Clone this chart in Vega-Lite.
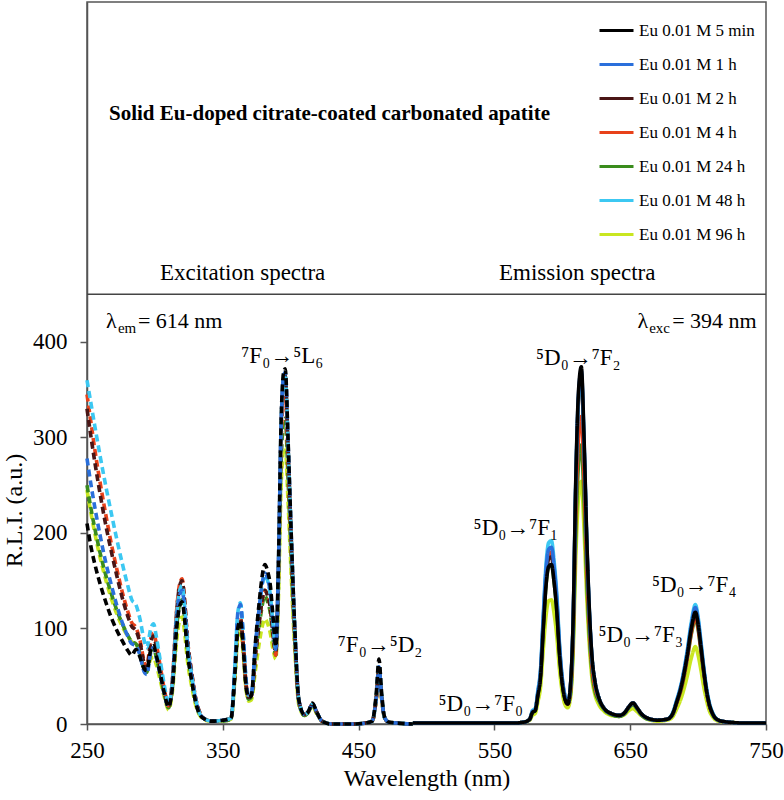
{
"$schema": "https://vega.github.io/schema/vega-lite/v6.json",
"width": 679, "height": 722,
"autosize": {"type": "none"},
"padding": {"left": 87, "top": 2, "right": 18, "bottom": 76},
"background": "white",
"config": {"font": "Liberation Serif", "view": {"stroke": "#555", "strokeWidth": 1.5}},
"datasets": {
"sp": [
{"s":"96 h","p":"x","x":250,"y":245},{"s":"96 h","p":"x","x":253,"y":220},{"s":"96 h","p":"x","x":256,"y":198},{"s":"96 h","p":"x","x":260,"y":172},{"s":"96 h","p":"x","x":264,"y":150},{"s":"96 h","p":"x","x":268,"y":131},{"s":"96 h","p":"x","x":272,"y":115},{"s":"96 h","p":"x","x":276,"y":102},{"s":"96 h","p":"x","x":280,"y":92},{"s":"96 h","p":"x","x":283,"y":86},
{"s":"96 h","p":"x","x":286,"y":84},{"s":"96 h","p":"x","x":289,"y":76},{"s":"96 h","p":"x","x":292,"y":62},{"s":"96 h","p":"x","x":294,"y":58},{"s":"96 h","p":"x","x":297,"y":68},{"s":"96 h","p":"x","x":299,"y":70},{"s":"96 h","p":"x","x":301,"y":62},{"s":"96 h","p":"x","x":304,"y":45},{"s":"96 h","p":"x","x":307,"y":28},{"s":"96 h","p":"x","x":310,"y":15},
{"s":"96 h","p":"x","x":313,"y":35},{"s":"96 h","p":"x","x":316,"y":87},{"s":"96 h","p":"x","x":318,"y":107},{"s":"96 h","p":"x","x":320,"y":112},{"s":"96 h","p":"x","x":322,"y":94},{"s":"96 h","p":"x","x":324,"y":66},{"s":"96 h","p":"x","x":327,"y":40},{"s":"96 h","p":"x","x":330,"y":20},{"s":"96 h","p":"x","x":333,"y":9},{"s":"96 h","p":"x","x":337,"y":4},
{"s":"96 h","p":"x","x":342,"y":3},{"s":"96 h","p":"x","x":350,"y":3},{"s":"96 h","p":"x","x":356,"y":5},{"s":"96 h","p":"x","x":359,"y":49},{"s":"96 h","p":"x","x":361,"y":90},{"s":"96 h","p":"x","x":363,"y":98},{"s":"96 h","p":"x","x":365,"y":74},{"s":"96 h","p":"x","x":367,"y":38},{"s":"96 h","p":"x","x":369,"y":24},{"s":"96 h","p":"x","x":371,"y":25},
{"s":"96 h","p":"x","x":374,"y":56},{"s":"96 h","p":"x","x":377,"y":86},{"s":"96 h","p":"x","x":379,"y":102},{"s":"96 h","p":"x","x":381,"y":110},{"s":"96 h","p":"x","x":383,"y":105},{"s":"96 h","p":"x","x":385,"y":95},{"s":"96 h","p":"x","x":387,"y":78},{"s":"96 h","p":"x","x":389,"y":68},{"s":"96 h","p":"x","x":391,"y":133},{"s":"96 h","p":"x","x":393,"y":250},
{"s":"96 h","p":"x","x":395,"y":288},{"s":"96 h","p":"x","x":396,"y":290},{"s":"96 h","p":"x","x":398,"y":234},{"s":"96 h","p":"x","x":400,"y":168},{"s":"96 h","p":"x","x":403,"y":78},{"s":"96 h","p":"x","x":406,"y":20},{"s":"96 h","p":"x","x":410,"y":9},{"s":"96 h","p":"x","x":413,"y":12},{"s":"96 h","p":"x","x":416,"y":19},{"s":"96 h","p":"x","x":419,"y":11},
{"s":"96 h","p":"x","x":423,"y":3},{"s":"96 h","p":"x","x":430,"y":0},{"s":"96 h","p":"x","x":445,"y":0},{"s":"96 h","p":"x","x":455,"y":1},{"s":"96 h","p":"x","x":460,"y":3},{"s":"96 h","p":"x","x":463,"y":26},{"s":"96 h","p":"x","x":465,"y":55},{"s":"96 h","p":"x","x":467,"y":26},{"s":"96 h","p":"x","x":469,"y":7},{"s":"96 h","p":"x","x":472,"y":2},
{"s":"96 h","p":"x","x":478,"y":1},{"s":"96 h","p":"x","x":490,"y":0},
{"s":"96 h","p":"m","x":490,"y":1},{"s":"96 h","p":"m","x":530,"y":1},{"s":"96 h","p":"m","x":565,"y":1},{"s":"96 h","p":"m","x":572,"y":2},{"s":"96 h","p":"m","x":576,"y":4},{"s":"96 h","p":"m","x":578,"y":9},{"s":"96 h","p":"m","x":580,"y":11},{"s":"96 h","p":"m","x":582,"y":23},{"s":"96 h","p":"m","x":584,"y":39},{"s":"96 h","p":"m","x":586,"y":78},
{"s":"96 h","p":"m","x":588,"y":113},{"s":"96 h","p":"m","x":590,"y":129},{"s":"96 h","p":"m","x":592,"y":130},{"s":"96 h","p":"m","x":594,"y":115},{"s":"96 h","p":"m","x":596,"y":91},{"s":"96 h","p":"m","x":598,"y":56},{"s":"96 h","p":"m","x":600,"y":33},{"s":"96 h","p":"m","x":602,"y":20},{"s":"96 h","p":"m","x":604,"y":17},{"s":"96 h","p":"m","x":606,"y":27},
{"s":"96 h","p":"m","x":608,"y":75},{"s":"96 h","p":"m","x":610,"y":177},{"s":"96 h","p":"m","x":612,"y":238},{"s":"96 h","p":"m","x":614,"y":254},{"s":"96 h","p":"m","x":616,"y":204},{"s":"96 h","p":"m","x":618,"y":133},{"s":"96 h","p":"m","x":620,"y":80},{"s":"96 h","p":"m","x":622,"y":46},{"s":"96 h","p":"m","x":624,"y":31},{"s":"96 h","p":"m","x":627,"y":20},
{"s":"96 h","p":"m","x":631,"y":13},{"s":"96 h","p":"m","x":636,"y":9},{"s":"96 h","p":"m","x":642,"y":8},{"s":"96 h","p":"m","x":646,"y":10},{"s":"96 h","p":"m","x":649,"y":14},{"s":"96 h","p":"m","x":652,"y":16},{"s":"96 h","p":"m","x":655,"y":13},{"s":"96 h","p":"m","x":658,"y":9},{"s":"96 h","p":"m","x":663,"y":5},{"s":"96 h","p":"m","x":670,"y":3},
{"s":"96 h","p":"m","x":677,"y":4},{"s":"96 h","p":"m","x":681,"y":7},{"s":"96 h","p":"m","x":684,"y":15},{"s":"96 h","p":"m","x":688,"y":29},{"s":"96 h","p":"m","x":692,"y":50},{"s":"96 h","p":"m","x":695,"y":69},{"s":"96 h","p":"m","x":698,"y":81},{"s":"96 h","p":"m","x":700,"y":72},{"s":"96 h","p":"m","x":702,"y":57},{"s":"96 h","p":"m","x":704,"y":40},
{"s":"96 h","p":"m","x":706,"y":26},{"s":"96 h","p":"m","x":708,"y":15},{"s":"96 h","p":"m","x":711,"y":7},{"s":"96 h","p":"m","x":715,"y":3},{"s":"96 h","p":"m","x":722,"y":2},{"s":"96 h","p":"m","x":735,"y":1},{"s":"96 h","p":"m","x":750,"y":1},

{"s":"24 h","p":"x","x":250,"y":250},{"s":"24 h","p":"x","x":253,"y":225},{"s":"24 h","p":"x","x":256,"y":203},{"s":"24 h","p":"x","x":260,"y":177},{"s":"24 h","p":"x","x":264,"y":155},{"s":"24 h","p":"x","x":268,"y":136},{"s":"24 h","p":"x","x":272,"y":119},{"s":"24 h","p":"x","x":276,"y":105},{"s":"24 h","p":"x","x":280,"y":93},{"s":"24 h","p":"x","x":283,"y":86},
{"s":"24 h","p":"x","x":286,"y":84},{"s":"24 h","p":"x","x":289,"y":74},{"s":"24 h","p":"x","x":292,"y":58},{"s":"24 h","p":"x","x":294,"y":54},{"s":"24 h","p":"x","x":297,"y":76},{"s":"24 h","p":"x","x":299,"y":80},{"s":"24 h","p":"x","x":301,"y":70},{"s":"24 h","p":"x","x":304,"y":51},{"s":"24 h","p":"x","x":307,"y":31},{"s":"24 h","p":"x","x":310,"y":17},
{"s":"24 h","p":"x","x":313,"y":40},{"s":"24 h","p":"x","x":316,"y":101},{"s":"24 h","p":"x","x":318,"y":124},{"s":"24 h","p":"x","x":320,"y":130},{"s":"24 h","p":"x","x":322,"y":110},{"s":"24 h","p":"x","x":324,"y":76},{"s":"24 h","p":"x","x":327,"y":47},{"s":"24 h","p":"x","x":330,"y":23},{"s":"24 h","p":"x","x":333,"y":10},{"s":"24 h","p":"x","x":337,"y":5},
{"s":"24 h","p":"x","x":342,"y":3},{"s":"24 h","p":"x","x":350,"y":3},{"s":"24 h","p":"x","x":356,"y":5},{"s":"24 h","p":"x","x":359,"y":52},{"s":"24 h","p":"x","x":361,"y":96},{"s":"24 h","p":"x","x":363,"y":104},{"s":"24 h","p":"x","x":365,"y":79},{"s":"24 h","p":"x","x":367,"y":40},{"s":"24 h","p":"x","x":369,"y":26},{"s":"24 h","p":"x","x":371,"y":28},
{"s":"24 h","p":"x","x":374,"y":69},{"s":"24 h","p":"x","x":377,"y":104},{"s":"24 h","p":"x","x":379,"y":124},{"s":"24 h","p":"x","x":381,"y":134},{"s":"24 h","p":"x","x":383,"y":128},{"s":"24 h","p":"x","x":385,"y":116},{"s":"24 h","p":"x","x":387,"y":90},{"s":"24 h","p":"x","x":389,"y":72},{"s":"24 h","p":"x","x":391,"y":146},{"s":"24 h","p":"x","x":393,"y":275},
{"s":"24 h","p":"x","x":395,"y":318},{"s":"24 h","p":"x","x":396,"y":320},{"s":"24 h","p":"x","x":398,"y":258},{"s":"24 h","p":"x","x":400,"y":185},{"s":"24 h","p":"x","x":403,"y":86},{"s":"24 h","p":"x","x":406,"y":22},{"s":"24 h","p":"x","x":410,"y":9},{"s":"24 h","p":"x","x":413,"y":12},{"s":"24 h","p":"x","x":416,"y":20},{"s":"24 h","p":"x","x":419,"y":12},
{"s":"24 h","p":"x","x":423,"y":3},{"s":"24 h","p":"x","x":430,"y":0},{"s":"24 h","p":"x","x":445,"y":0},{"s":"24 h","p":"x","x":455,"y":1},{"s":"24 h","p":"x","x":460,"y":3},{"s":"24 h","p":"x","x":463,"y":27},{"s":"24 h","p":"x","x":465,"y":58},{"s":"24 h","p":"x","x":467,"y":27},{"s":"24 h","p":"x","x":469,"y":7},{"s":"24 h","p":"x","x":472,"y":2},
{"s":"24 h","p":"x","x":478,"y":1},{"s":"24 h","p":"x","x":490,"y":0},
{"s":"24 h","p":"m","x":490,"y":1},{"s":"24 h","p":"m","x":530,"y":1},{"s":"24 h","p":"m","x":565,"y":1},{"s":"24 h","p":"m","x":572,"y":2},{"s":"24 h","p":"m","x":576,"y":5},{"s":"24 h","p":"m","x":578,"y":12},{"s":"24 h","p":"m","x":580,"y":14},{"s":"24 h","p":"m","x":582,"y":30},{"s":"24 h","p":"m","x":584,"y":50},{"s":"24 h","p":"m","x":586,"y":100},
{"s":"24 h","p":"m","x":588,"y":145},{"s":"24 h","p":"m","x":590,"y":165},{"s":"24 h","p":"m","x":592,"y":167},{"s":"24 h","p":"m","x":594,"y":148},{"s":"24 h","p":"m","x":596,"y":117},{"s":"24 h","p":"m","x":598,"y":72},{"s":"24 h","p":"m","x":600,"y":42},{"s":"24 h","p":"m","x":602,"y":26},{"s":"24 h","p":"m","x":604,"y":21},{"s":"24 h","p":"m","x":606,"y":31},
{"s":"24 h","p":"m","x":608,"y":86},{"s":"24 h","p":"m","x":610,"y":203},{"s":"24 h","p":"m","x":612,"y":273},{"s":"24 h","p":"m","x":614,"y":292},{"s":"24 h","p":"m","x":616,"y":234},{"s":"24 h","p":"m","x":618,"y":152},{"s":"24 h","p":"m","x":620,"y":91},{"s":"24 h","p":"m","x":622,"y":53},{"s":"24 h","p":"m","x":624,"y":35},{"s":"24 h","p":"m","x":627,"y":24},
{"s":"24 h","p":"m","x":631,"y":15},{"s":"24 h","p":"m","x":636,"y":10},{"s":"24 h","p":"m","x":642,"y":8},{"s":"24 h","p":"m","x":646,"y":11},{"s":"24 h","p":"m","x":649,"y":17},{"s":"24 h","p":"m","x":652,"y":20},{"s":"24 h","p":"m","x":655,"y":16},{"s":"24 h","p":"m","x":658,"y":10},{"s":"24 h","p":"m","x":663,"y":5},{"s":"24 h","p":"m","x":670,"y":4},
{"s":"24 h","p":"m","x":677,"y":5},{"s":"24 h","p":"m","x":681,"y":9},{"s":"24 h","p":"m","x":684,"y":21},{"s":"24 h","p":"m","x":688,"y":39},{"s":"24 h","p":"m","x":692,"y":68},{"s":"24 h","p":"m","x":695,"y":94},{"s":"24 h","p":"m","x":698,"y":110},{"s":"24 h","p":"m","x":700,"y":99},{"s":"24 h","p":"m","x":702,"y":77},{"s":"24 h","p":"m","x":704,"y":55},
{"s":"24 h","p":"m","x":706,"y":35},{"s":"24 h","p":"m","x":708,"y":21},{"s":"24 h","p":"m","x":711,"y":9},{"s":"24 h","p":"m","x":715,"y":4},{"s":"24 h","p":"m","x":722,"y":2},{"s":"24 h","p":"m","x":735,"y":1},{"s":"24 h","p":"m","x":750,"y":1},

{"s":"4 h","p":"x","x":250,"y":345},{"s":"4 h","p":"x","x":253,"y":315},{"s":"4 h","p":"x","x":256,"y":285},{"s":"4 h","p":"x","x":260,"y":250},{"s":"4 h","p":"x","x":264,"y":218},{"s":"4 h","p":"x","x":268,"y":188},{"s":"4 h","p":"x","x":272,"y":162},{"s":"4 h","p":"x","x":276,"y":138},{"s":"4 h","p":"x","x":280,"y":118},{"s":"4 h","p":"x","x":283,"y":106},
{"s":"4 h","p":"x","x":286,"y":101},{"s":"4 h","p":"x","x":289,"y":88},{"s":"4 h","p":"x","x":292,"y":66},{"s":"4 h","p":"x","x":294,"y":60},{"s":"4 h","p":"x","x":297,"y":90},{"s":"4 h","p":"x","x":299,"y":96},{"s":"4 h","p":"x","x":301,"y":84},{"s":"4 h","p":"x","x":304,"y":60},{"s":"4 h","p":"x","x":307,"y":36},{"s":"4 h","p":"x","x":310,"y":19},
{"s":"4 h","p":"x","x":313,"y":48},{"s":"4 h","p":"x","x":316,"y":119},{"s":"4 h","p":"x","x":318,"y":145},{"s":"4 h","p":"x","x":320,"y":152},{"s":"4 h","p":"x","x":322,"y":128},{"s":"4 h","p":"x","x":324,"y":89},{"s":"4 h","p":"x","x":327,"y":55},{"s":"4 h","p":"x","x":330,"y":27},{"s":"4 h","p":"x","x":333,"y":12},{"s":"4 h","p":"x","x":337,"y":5},
{"s":"4 h","p":"x","x":342,"y":3},{"s":"4 h","p":"x","x":350,"y":4},{"s":"4 h","p":"x","x":356,"y":6},{"s":"4 h","p":"x","x":359,"y":57},{"s":"4 h","p":"x","x":361,"y":104},{"s":"4 h","p":"x","x":363,"y":112},{"s":"4 h","p":"x","x":365,"y":85},{"s":"4 h","p":"x","x":367,"y":44},{"s":"4 h","p":"x","x":369,"y":29},{"s":"4 h","p":"x","x":371,"y":30},
{"s":"4 h","p":"x","x":374,"y":72},{"s":"4 h","p":"x","x":377,"y":109},{"s":"4 h","p":"x","x":379,"y":130},{"s":"4 h","p":"x","x":381,"y":140},{"s":"4 h","p":"x","x":383,"y":134},{"s":"4 h","p":"x","x":385,"y":122},{"s":"4 h","p":"x","x":387,"y":94},{"s":"4 h","p":"x","x":389,"y":72},{"s":"4 h","p":"x","x":391,"y":158},{"s":"4 h","p":"x","x":393,"y":297},
{"s":"4 h","p":"x","x":395,"y":343},{"s":"4 h","p":"x","x":396,"y":345},{"s":"4 h","p":"x","x":398,"y":278},{"s":"4 h","p":"x","x":400,"y":200},{"s":"4 h","p":"x","x":403,"y":93},{"s":"4 h","p":"x","x":406,"y":24},{"s":"4 h","p":"x","x":410,"y":10},{"s":"4 h","p":"x","x":413,"y":13},{"s":"4 h","p":"x","x":416,"y":21},{"s":"4 h","p":"x","x":419,"y":13},
{"s":"4 h","p":"x","x":423,"y":3},{"s":"4 h","p":"x","x":430,"y":0},{"s":"4 h","p":"x","x":445,"y":0},{"s":"4 h","p":"x","x":455,"y":1},{"s":"4 h","p":"x","x":460,"y":3},{"s":"4 h","p":"x","x":463,"y":26},{"s":"4 h","p":"x","x":465,"y":55},{"s":"4 h","p":"x","x":467,"y":26},{"s":"4 h","p":"x","x":469,"y":7},{"s":"4 h","p":"x","x":472,"y":2},
{"s":"4 h","p":"x","x":478,"y":1},{"s":"4 h","p":"x","x":490,"y":0},
{"s":"4 h","p":"m","x":490,"y":1},{"s":"4 h","p":"m","x":530,"y":1},{"s":"4 h","p":"m","x":565,"y":1},{"s":"4 h","p":"m","x":572,"y":2},{"s":"4 h","p":"m","x":576,"y":5},{"s":"4 h","p":"m","x":578,"y":13},{"s":"4 h","p":"m","x":580,"y":15},{"s":"4 h","p":"m","x":582,"y":32},{"s":"4 h","p":"m","x":584,"y":54},{"s":"4 h","p":"m","x":586,"y":108},
{"s":"4 h","p":"m","x":588,"y":157},{"s":"4 h","p":"m","x":590,"y":178},{"s":"4 h","p":"m","x":592,"y":180},{"s":"4 h","p":"m","x":594,"y":160},{"s":"4 h","p":"m","x":596,"y":126},{"s":"4 h","p":"m","x":598,"y":78},{"s":"4 h","p":"m","x":600,"y":45},{"s":"4 h","p":"m","x":602,"y":28},{"s":"4 h","p":"m","x":604,"y":21},{"s":"4 h","p":"m","x":606,"y":34},
{"s":"4 h","p":"m","x":608,"y":95},{"s":"4 h","p":"m","x":610,"y":224},{"s":"4 h","p":"m","x":612,"y":301},{"s":"4 h","p":"m","x":614,"y":322},{"s":"4 h","p":"m","x":616,"y":258},{"s":"4 h","p":"m","x":618,"y":168},{"s":"4 h","p":"m","x":620,"y":101},{"s":"4 h","p":"m","x":622,"y":58},{"s":"4 h","p":"m","x":624,"y":39},{"s":"4 h","p":"m","x":627,"y":26},
{"s":"4 h","p":"m","x":631,"y":16},{"s":"4 h","p":"m","x":636,"y":11},{"s":"4 h","p":"m","x":642,"y":9},{"s":"4 h","p":"m","x":646,"y":12},{"s":"4 h","p":"m","x":649,"y":18},{"s":"4 h","p":"m","x":652,"y":22},{"s":"4 h","p":"m","x":655,"y":17},{"s":"4 h","p":"m","x":658,"y":11},{"s":"4 h","p":"m","x":663,"y":6},{"s":"4 h","p":"m","x":670,"y":4},
{"s":"4 h","p":"m","x":677,"y":5},{"s":"4 h","p":"m","x":681,"y":10},{"s":"4 h","p":"m","x":684,"y":21},{"s":"4 h","p":"m","x":688,"y":40},{"s":"4 h","p":"m","x":692,"y":69},{"s":"4 h","p":"m","x":695,"y":96},{"s":"4 h","p":"m","x":698,"y":112},{"s":"4 h","p":"m","x":700,"y":101},{"s":"4 h","p":"m","x":702,"y":79},{"s":"4 h","p":"m","x":704,"y":56},
{"s":"4 h","p":"m","x":706,"y":36},{"s":"4 h","p":"m","x":708,"y":21},{"s":"4 h","p":"m","x":711,"y":10},{"s":"4 h","p":"m","x":715,"y":4},{"s":"4 h","p":"m","x":722,"y":2},{"s":"4 h","p":"m","x":735,"y":1},{"s":"4 h","p":"m","x":750,"y":1},

{"s":"2 h","p":"x","x":250,"y":330},{"s":"2 h","p":"x","x":253,"y":300},{"s":"2 h","p":"x","x":256,"y":272},{"s":"2 h","p":"x","x":260,"y":238},{"s":"2 h","p":"x","x":264,"y":207},{"s":"2 h","p":"x","x":268,"y":180},{"s":"2 h","p":"x","x":272,"y":155},{"s":"2 h","p":"x","x":276,"y":132},{"s":"2 h","p":"x","x":280,"y":113},{"s":"2 h","p":"x","x":283,"y":102},
{"s":"2 h","p":"x","x":286,"y":98},{"s":"2 h","p":"x","x":289,"y":85},{"s":"2 h","p":"x","x":292,"y":64},{"s":"2 h","p":"x","x":294,"y":58},{"s":"2 h","p":"x","x":297,"y":86},{"s":"2 h","p":"x","x":299,"y":92},{"s":"2 h","p":"x","x":301,"y":81},{"s":"2 h","p":"x","x":304,"y":58},{"s":"2 h","p":"x","x":307,"y":35},{"s":"2 h","p":"x","x":310,"y":19},
{"s":"2 h","p":"x","x":313,"y":47},{"s":"2 h","p":"x","x":316,"y":117},{"s":"2 h","p":"x","x":318,"y":143},{"s":"2 h","p":"x","x":320,"y":150},{"s":"2 h","p":"x","x":322,"y":126},{"s":"2 h","p":"x","x":324,"y":88},{"s":"2 h","p":"x","x":327,"y":54},{"s":"2 h","p":"x","x":330,"y":27},{"s":"2 h","p":"x","x":333,"y":12},{"s":"2 h","p":"x","x":337,"y":5},
{"s":"2 h","p":"x","x":342,"y":3},{"s":"2 h","p":"x","x":350,"y":4},{"s":"2 h","p":"x","x":356,"y":6},{"s":"2 h","p":"x","x":359,"y":56},{"s":"2 h","p":"x","x":361,"y":102},{"s":"2 h","p":"x","x":363,"y":110},{"s":"2 h","p":"x","x":365,"y":83},{"s":"2 h","p":"x","x":367,"y":43},{"s":"2 h","p":"x","x":369,"y":28},{"s":"2 h","p":"x","x":371,"y":29},
{"s":"2 h","p":"x","x":374,"y":72},{"s":"2 h","p":"x","x":377,"y":109},{"s":"2 h","p":"x","x":379,"y":130},{"s":"2 h","p":"x","x":381,"y":140},{"s":"2 h","p":"x","x":383,"y":134},{"s":"2 h","p":"x","x":385,"y":122},{"s":"2 h","p":"x","x":387,"y":94},{"s":"2 h","p":"x","x":389,"y":75},{"s":"2 h","p":"x","x":391,"y":166},{"s":"2 h","p":"x","x":393,"y":314},
{"s":"2 h","p":"x","x":395,"y":363},{"s":"2 h","p":"x","x":396,"y":365},{"s":"2 h","p":"x","x":398,"y":294},{"s":"2 h","p":"x","x":400,"y":211},{"s":"2 h","p":"x","x":403,"y":98},{"s":"2 h","p":"x","x":406,"y":25},{"s":"2 h","p":"x","x":410,"y":10},{"s":"2 h","p":"x","x":413,"y":13},{"s":"2 h","p":"x","x":416,"y":21},{"s":"2 h","p":"x","x":419,"y":13},
{"s":"2 h","p":"x","x":423,"y":3},{"s":"2 h","p":"x","x":430,"y":0},{"s":"2 h","p":"x","x":445,"y":0},{"s":"2 h","p":"x","x":455,"y":1},{"s":"2 h","p":"x","x":460,"y":3},{"s":"2 h","p":"x","x":463,"y":27},{"s":"2 h","p":"x","x":465,"y":58},{"s":"2 h","p":"x","x":467,"y":27},{"s":"2 h","p":"x","x":469,"y":7},{"s":"2 h","p":"x","x":472,"y":2},
{"s":"2 h","p":"x","x":478,"y":1},{"s":"2 h","p":"x","x":490,"y":0},
{"s":"2 h","p":"m","x":490,"y":1},{"s":"2 h","p":"m","x":530,"y":1},{"s":"2 h","p":"m","x":565,"y":1},{"s":"2 h","p":"m","x":572,"y":2},{"s":"2 h","p":"m","x":576,"y":5},{"s":"2 h","p":"m","x":578,"y":13},{"s":"2 h","p":"m","x":580,"y":15},{"s":"2 h","p":"m","x":582,"y":32},{"s":"2 h","p":"m","x":584,"y":53},{"s":"2 h","p":"m","x":586,"y":105},
{"s":"2 h","p":"m","x":588,"y":152},{"s":"2 h","p":"m","x":590,"y":173},{"s":"2 h","p":"m","x":592,"y":175},{"s":"2 h","p":"m","x":594,"y":155},{"s":"2 h","p":"m","x":596,"y":123},{"s":"2 h","p":"m","x":598,"y":76},{"s":"2 h","p":"m","x":600,"y":44},{"s":"2 h","p":"m","x":602,"y":27},{"s":"2 h","p":"m","x":604,"y":21},{"s":"2 h","p":"m","x":606,"y":39},
{"s":"2 h","p":"m","x":608,"y":107},{"s":"2 h","p":"m","x":610,"y":252},{"s":"2 h","p":"m","x":612,"y":340},{"s":"2 h","p":"m","x":614,"y":363},{"s":"2 h","p":"m","x":616,"y":291},{"s":"2 h","p":"m","x":618,"y":189},{"s":"2 h","p":"m","x":620,"y":113},{"s":"2 h","p":"m","x":622,"y":66},{"s":"2 h","p":"m","x":624,"y":44},{"s":"2 h","p":"m","x":627,"y":27},
{"s":"2 h","p":"m","x":631,"y":16},{"s":"2 h","p":"m","x":636,"y":11},{"s":"2 h","p":"m","x":642,"y":9},{"s":"2 h","p":"m","x":646,"y":12},{"s":"2 h","p":"m","x":649,"y":18},{"s":"2 h","p":"m","x":652,"y":22},{"s":"2 h","p":"m","x":655,"y":17},{"s":"2 h","p":"m","x":658,"y":11},{"s":"2 h","p":"m","x":663,"y":6},{"s":"2 h","p":"m","x":670,"y":4},
{"s":"2 h","p":"m","x":677,"y":5},{"s":"2 h","p":"m","x":681,"y":10},{"s":"2 h","p":"m","x":684,"y":22},{"s":"2 h","p":"m","x":688,"y":42},{"s":"2 h","p":"m","x":692,"y":72},{"s":"2 h","p":"m","x":695,"y":100},{"s":"2 h","p":"m","x":698,"y":117},{"s":"2 h","p":"m","x":700,"y":105},{"s":"2 h","p":"m","x":702,"y":82},{"s":"2 h","p":"m","x":704,"y":58},
{"s":"2 h","p":"m","x":706,"y":37},{"s":"2 h","p":"m","x":708,"y":22},{"s":"2 h","p":"m","x":711,"y":10},{"s":"2 h","p":"m","x":715,"y":4},{"s":"2 h","p":"m","x":722,"y":2},{"s":"2 h","p":"m","x":735,"y":1},{"s":"2 h","p":"m","x":750,"y":1},

{"s":"48 h","p":"x","x":250,"y":360},{"s":"48 h","p":"x","x":253,"y":335},{"s":"48 h","p":"x","x":256,"y":310},{"s":"48 h","p":"x","x":260,"y":278},{"s":"48 h","p":"x","x":264,"y":248},{"s":"48 h","p":"x","x":268,"y":220},{"s":"48 h","p":"x","x":272,"y":193},{"s":"48 h","p":"x","x":276,"y":168},{"s":"48 h","p":"x","x":280,"y":145},{"s":"48 h","p":"x","x":283,"y":130},
{"s":"48 h","p":"x","x":286,"y":125},{"s":"48 h","p":"x","x":289,"y":110},{"s":"48 h","p":"x","x":292,"y":88},{"s":"48 h","p":"x","x":294,"y":80},{"s":"48 h","p":"x","x":297,"y":100},{"s":"48 h","p":"x","x":299,"y":105},{"s":"48 h","p":"x","x":301,"y":92},{"s":"48 h","p":"x","x":304,"y":66},{"s":"48 h","p":"x","x":307,"y":40},{"s":"48 h","p":"x","x":310,"y":21},
{"s":"48 h","p":"x","x":313,"y":46},{"s":"48 h","p":"x","x":316,"y":113},{"s":"48 h","p":"x","x":318,"y":138},{"s":"48 h","p":"x","x":320,"y":145},{"s":"48 h","p":"x","x":322,"y":122},{"s":"48 h","p":"x","x":324,"y":85},{"s":"48 h","p":"x","x":327,"y":52},{"s":"48 h","p":"x","x":330,"y":26},{"s":"48 h","p":"x","x":333,"y":11},{"s":"48 h","p":"x","x":337,"y":5},
{"s":"48 h","p":"x","x":342,"y":3},{"s":"48 h","p":"x","x":350,"y":4},{"s":"48 h","p":"x","x":356,"y":6},{"s":"48 h","p":"x","x":359,"y":63},{"s":"48 h","p":"x","x":361,"y":116},{"s":"48 h","p":"x","x":363,"y":127},{"s":"48 h","p":"x","x":365,"y":95},{"s":"48 h","p":"x","x":367,"y":48},{"s":"48 h","p":"x","x":369,"y":30},{"s":"48 h","p":"x","x":371,"y":31},
{"s":"48 h","p":"x","x":374,"y":81},{"s":"48 h","p":"x","x":377,"y":122},{"s":"48 h","p":"x","x":379,"y":145},{"s":"48 h","p":"x","x":381,"y":156},{"s":"48 h","p":"x","x":383,"y":150},{"s":"48 h","p":"x","x":385,"y":135},{"s":"48 h","p":"x","x":387,"y":104},{"s":"48 h","p":"x","x":389,"y":78},{"s":"48 h","p":"x","x":391,"y":167},{"s":"48 h","p":"x","x":393,"y":315},
{"s":"48 h","p":"x","x":395,"y":364},{"s":"48 h","p":"x","x":396,"y":366},{"s":"48 h","p":"x","x":398,"y":296},{"s":"48 h","p":"x","x":400,"y":212},{"s":"48 h","p":"x","x":403,"y":99},{"s":"48 h","p":"x","x":406,"y":25},{"s":"48 h","p":"x","x":410,"y":10},{"s":"48 h","p":"x","x":413,"y":13},{"s":"48 h","p":"x","x":416,"y":21},{"s":"48 h","p":"x","x":419,"y":13},
{"s":"48 h","p":"x","x":423,"y":3},{"s":"48 h","p":"x","x":430,"y":0},{"s":"48 h","p":"x","x":445,"y":0},{"s":"48 h","p":"x","x":455,"y":1},{"s":"48 h","p":"x","x":460,"y":3},{"s":"48 h","p":"x","x":463,"y":29},{"s":"48 h","p":"x","x":465,"y":62},{"s":"48 h","p":"x","x":467,"y":29},{"s":"48 h","p":"x","x":469,"y":7},{"s":"48 h","p":"x","x":472,"y":2},
{"s":"48 h","p":"x","x":478,"y":1},{"s":"48 h","p":"x","x":490,"y":0},
{"s":"48 h","p":"m","x":490,"y":1},{"s":"48 h","p":"m","x":530,"y":1},{"s":"48 h","p":"m","x":565,"y":1},{"s":"48 h","p":"m","x":572,"y":2},{"s":"48 h","p":"m","x":576,"y":5},{"s":"48 h","p":"m","x":578,"y":14},{"s":"48 h","p":"m","x":580,"y":16},{"s":"48 h","p":"m","x":582,"y":35},{"s":"48 h","p":"m","x":584,"y":58},{"s":"48 h","p":"m","x":586,"y":115},
{"s":"48 h","p":"m","x":588,"y":167},{"s":"48 h","p":"m","x":590,"y":190},{"s":"48 h","p":"m","x":592,"y":192},{"s":"48 h","p":"m","x":594,"y":170},{"s":"48 h","p":"m","x":596,"y":135},{"s":"48 h","p":"m","x":598,"y":83},{"s":"48 h","p":"m","x":600,"y":48},{"s":"48 h","p":"m","x":602,"y":30},{"s":"48 h","p":"m","x":604,"y":22},{"s":"48 h","p":"m","x":606,"y":39},
{"s":"48 h","p":"m","x":608,"y":108},{"s":"48 h","p":"m","x":610,"y":255},{"s":"48 h","p":"m","x":612,"y":343},{"s":"48 h","p":"m","x":614,"y":367},{"s":"48 h","p":"m","x":616,"y":294},{"s":"48 h","p":"m","x":618,"y":191},{"s":"48 h","p":"m","x":620,"y":115},{"s":"48 h","p":"m","x":622,"y":67},{"s":"48 h","p":"m","x":624,"y":44},{"s":"48 h","p":"m","x":627,"y":27},
{"s":"48 h","p":"m","x":631,"y":16},{"s":"48 h","p":"m","x":636,"y":11},{"s":"48 h","p":"m","x":642,"y":9},{"s":"48 h","p":"m","x":646,"y":12},{"s":"48 h","p":"m","x":649,"y":18},{"s":"48 h","p":"m","x":652,"y":22},{"s":"48 h","p":"m","x":655,"y":17},{"s":"48 h","p":"m","x":658,"y":11},{"s":"48 h","p":"m","x":663,"y":6},{"s":"48 h","p":"m","x":670,"y":4},
{"s":"48 h","p":"m","x":677,"y":5},{"s":"48 h","p":"m","x":681,"y":11},{"s":"48 h","p":"m","x":684,"y":24},{"s":"48 h","p":"m","x":688,"y":45},{"s":"48 h","p":"m","x":692,"y":77},{"s":"48 h","p":"m","x":695,"y":107},{"s":"48 h","p":"m","x":698,"y":125},{"s":"48 h","p":"m","x":700,"y":112},{"s":"48 h","p":"m","x":702,"y":88},{"s":"48 h","p":"m","x":704,"y":62},
{"s":"48 h","p":"m","x":706,"y":40},{"s":"48 h","p":"m","x":708,"y":24},{"s":"48 h","p":"m","x":711,"y":11},{"s":"48 h","p":"m","x":715,"y":4},{"s":"48 h","p":"m","x":722,"y":2},{"s":"48 h","p":"m","x":735,"y":1},{"s":"48 h","p":"m","x":750,"y":1},

{"s":"1 h","p":"x","x":250,"y":278},{"s":"1 h","p":"x","x":253,"y":250},{"s":"1 h","p":"x","x":256,"y":225},{"s":"1 h","p":"x","x":260,"y":195},{"s":"1 h","p":"x","x":264,"y":168},{"s":"1 h","p":"x","x":268,"y":145},{"s":"1 h","p":"x","x":272,"y":124},{"s":"1 h","p":"x","x":276,"y":106},{"s":"1 h","p":"x","x":280,"y":92},{"s":"1 h","p":"x","x":283,"y":84},
{"s":"1 h","p":"x","x":286,"y":82},{"s":"1 h","p":"x","x":289,"y":72},{"s":"1 h","p":"x","x":292,"y":55},{"s":"1 h","p":"x","x":294,"y":52},{"s":"1 h","p":"x","x":297,"y":75},{"s":"1 h","p":"x","x":299,"y":80},{"s":"1 h","p":"x","x":301,"y":70},{"s":"1 h","p":"x","x":304,"y":51},{"s":"1 h","p":"x","x":307,"y":31},{"s":"1 h","p":"x","x":310,"y":18},
{"s":"1 h","p":"x","x":313,"y":43},{"s":"1 h","p":"x","x":316,"y":108},{"s":"1 h","p":"x","x":318,"y":133},{"s":"1 h","p":"x","x":320,"y":140},{"s":"1 h","p":"x","x":322,"y":118},{"s":"1 h","p":"x","x":324,"y":82},{"s":"1 h","p":"x","x":327,"y":50},{"s":"1 h","p":"x","x":330,"y":25},{"s":"1 h","p":"x","x":333,"y":11},{"s":"1 h","p":"x","x":337,"y":5},
{"s":"1 h","p":"x","x":342,"y":3},{"s":"1 h","p":"x","x":350,"y":4},{"s":"1 h","p":"x","x":356,"y":6},{"s":"1 h","p":"x","x":359,"y":62},{"s":"1 h","p":"x","x":361,"y":115},{"s":"1 h","p":"x","x":363,"y":125},{"s":"1 h","p":"x","x":365,"y":94},{"s":"1 h","p":"x","x":367,"y":48},{"s":"1 h","p":"x","x":369,"y":30},{"s":"1 h","p":"x","x":371,"y":31},
{"s":"1 h","p":"x","x":374,"y":82},{"s":"1 h","p":"x","x":377,"y":124},{"s":"1 h","p":"x","x":379,"y":147},{"s":"1 h","p":"x","x":381,"y":158},{"s":"1 h","p":"x","x":383,"y":152},{"s":"1 h","p":"x","x":385,"y":137},{"s":"1 h","p":"x","x":387,"y":106},{"s":"1 h","p":"x","x":389,"y":78},{"s":"1 h","p":"x","x":391,"y":168},{"s":"1 h","p":"x","x":393,"y":316},
{"s":"1 h","p":"x","x":395,"y":366},{"s":"1 h","p":"x","x":396,"y":368},{"s":"1 h","p":"x","x":398,"y":297},{"s":"1 h","p":"x","x":400,"y":213},{"s":"1 h","p":"x","x":403,"y":99},{"s":"1 h","p":"x","x":406,"y":25},{"s":"1 h","p":"x","x":410,"y":10},{"s":"1 h","p":"x","x":413,"y":13},{"s":"1 h","p":"x","x":416,"y":21},{"s":"1 h","p":"x","x":419,"y":13},
{"s":"1 h","p":"x","x":423,"y":3},{"s":"1 h","p":"x","x":430,"y":0},{"s":"1 h","p":"x","x":445,"y":0},{"s":"1 h","p":"x","x":455,"y":1},{"s":"1 h","p":"x","x":460,"y":3},{"s":"1 h","p":"x","x":463,"y":28},{"s":"1 h","p":"x","x":465,"y":60},{"s":"1 h","p":"x","x":467,"y":28},{"s":"1 h","p":"x","x":469,"y":7},{"s":"1 h","p":"x","x":472,"y":2},
{"s":"1 h","p":"x","x":478,"y":1},{"s":"1 h","p":"x","x":490,"y":0},
{"s":"1 h","p":"m","x":490,"y":1},{"s":"1 h","p":"m","x":530,"y":1},{"s":"1 h","p":"m","x":565,"y":1},{"s":"1 h","p":"m","x":572,"y":2},{"s":"1 h","p":"m","x":576,"y":5},{"s":"1 h","p":"m","x":578,"y":13},{"s":"1 h","p":"m","x":580,"y":15},{"s":"1 h","p":"m","x":582,"y":33},{"s":"1 h","p":"m","x":584,"y":56},{"s":"1 h","p":"m","x":586,"y":111},
{"s":"1 h","p":"m","x":588,"y":161},{"s":"1 h","p":"m","x":590,"y":183},{"s":"1 h","p":"m","x":592,"y":185},{"s":"1 h","p":"m","x":594,"y":164},{"s":"1 h","p":"m","x":596,"y":130},{"s":"1 h","p":"m","x":598,"y":80},{"s":"1 h","p":"m","x":600,"y":47},{"s":"1 h","p":"m","x":602,"y":29},{"s":"1 h","p":"m","x":604,"y":22},{"s":"1 h","p":"m","x":606,"y":40},
{"s":"1 h","p":"m","x":608,"y":109},{"s":"1 h","p":"m","x":610,"y":257},{"s":"1 h","p":"m","x":612,"y":347},{"s":"1 h","p":"m","x":614,"y":370},{"s":"1 h","p":"m","x":616,"y":297},{"s":"1 h","p":"m","x":618,"y":193},{"s":"1 h","p":"m","x":620,"y":116},{"s":"1 h","p":"m","x":622,"y":67},{"s":"1 h","p":"m","x":624,"y":45},{"s":"1 h","p":"m","x":627,"y":27},
{"s":"1 h","p":"m","x":631,"y":16},{"s":"1 h","p":"m","x":636,"y":11},{"s":"1 h","p":"m","x":642,"y":9},{"s":"1 h","p":"m","x":646,"y":12},{"s":"1 h","p":"m","x":649,"y":18},{"s":"1 h","p":"m","x":652,"y":22},{"s":"1 h","p":"m","x":655,"y":17},{"s":"1 h","p":"m","x":658,"y":11},{"s":"1 h","p":"m","x":663,"y":6},{"s":"1 h","p":"m","x":670,"y":4},
{"s":"1 h","p":"m","x":677,"y":5},{"s":"1 h","p":"m","x":681,"y":10},{"s":"1 h","p":"m","x":684,"y":23},{"s":"1 h","p":"m","x":688,"y":44},{"s":"1 h","p":"m","x":692,"y":75},{"s":"1 h","p":"m","x":695,"y":104},{"s":"1 h","p":"m","x":698,"y":122},{"s":"1 h","p":"m","x":700,"y":109},{"s":"1 h","p":"m","x":702,"y":85},{"s":"1 h","p":"m","x":704,"y":60},
{"s":"1 h","p":"m","x":706,"y":38},{"s":"1 h","p":"m","x":708,"y":23},{"s":"1 h","p":"m","x":711,"y":10},{"s":"1 h","p":"m","x":715,"y":4},{"s":"1 h","p":"m","x":722,"y":2},{"s":"1 h","p":"m","x":735,"y":1},{"s":"1 h","p":"m","x":750,"y":1},

{"s":"5 min","p":"x","x":250,"y":210},{"s":"5 min","p":"x","x":253,"y":185},{"s":"5 min","p":"x","x":256,"y":166},{"s":"5 min","p":"x","x":260,"y":145},{"s":"5 min","p":"x","x":264,"y":127},{"s":"5 min","p":"x","x":268,"y":111},{"s":"5 min","p":"x","x":272,"y":98},{"s":"5 min","p":"x","x":276,"y":87},{"s":"5 min","p":"x","x":280,"y":77},{"s":"5 min","p":"x","x":283,"y":72},
{"s":"5 min","p":"x","x":286,"y":78},{"s":"5 min","p":"x","x":289,"y":70},{"s":"5 min","p":"x","x":292,"y":58},{"s":"5 min","p":"x","x":294,"y":56},{"s":"5 min","p":"x","x":297,"y":78},{"s":"5 min","p":"x","x":299,"y":82},{"s":"5 min","p":"x","x":301,"y":72},{"s":"5 min","p":"x","x":304,"y":52},{"s":"5 min","p":"x","x":307,"y":32},{"s":"5 min","p":"x","x":310,"y":18},
{"s":"5 min","p":"x","x":313,"y":40},{"s":"5 min","p":"x","x":316,"y":100},{"s":"5 min","p":"x","x":318,"y":122},{"s":"5 min","p":"x","x":320,"y":128},{"s":"5 min","p":"x","x":322,"y":108},{"s":"5 min","p":"x","x":324,"y":75},{"s":"5 min","p":"x","x":327,"y":46},{"s":"5 min","p":"x","x":330,"y":23},{"s":"5 min","p":"x","x":333,"y":10},{"s":"5 min","p":"x","x":337,"y":5},
{"s":"5 min","p":"x","x":342,"y":3},{"s":"5 min","p":"x","x":350,"y":4},{"s":"5 min","p":"x","x":356,"y":6},{"s":"5 min","p":"x","x":359,"y":55},{"s":"5 min","p":"x","x":361,"y":100},{"s":"5 min","p":"x","x":363,"y":108},{"s":"5 min","p":"x","x":365,"y":82},{"s":"5 min","p":"x","x":367,"y":42},{"s":"5 min","p":"x","x":369,"y":28},{"s":"5 min","p":"x","x":371,"y":30},
{"s":"5 min","p":"x","x":374,"y":85},{"s":"5 min","p":"x","x":377,"y":130},{"s":"5 min","p":"x","x":379,"y":155},{"s":"5 min","p":"x","x":381,"y":167},{"s":"5 min","p":"x","x":383,"y":160},{"s":"5 min","p":"x","x":385,"y":145},{"s":"5 min","p":"x","x":387,"y":112},{"s":"5 min","p":"x","x":389,"y":81},{"s":"5 min","p":"x","x":391,"y":170},{"s":"5 min","p":"x","x":393,"y":320},
{"s":"5 min","p":"x","x":395,"y":370},{"s":"5 min","p":"x","x":396,"y":372},{"s":"5 min","p":"x","x":398,"y":300},{"s":"5 min","p":"x","x":400,"y":215},{"s":"5 min","p":"x","x":403,"y":100},{"s":"5 min","p":"x","x":406,"y":25},{"s":"5 min","p":"x","x":410,"y":10},{"s":"5 min","p":"x","x":413,"y":13},{"s":"5 min","p":"x","x":416,"y":22},{"s":"5 min","p":"x","x":419,"y":13},
{"s":"5 min","p":"x","x":423,"y":3},{"s":"5 min","p":"x","x":430,"y":0},{"s":"5 min","p":"x","x":445,"y":0},{"s":"5 min","p":"x","x":455,"y":1},{"s":"5 min","p":"x","x":460,"y":3},{"s":"5 min","p":"x","x":463,"y":32},{"s":"5 min","p":"x","x":465,"y":68},{"s":"5 min","p":"x","x":467,"y":32},{"s":"5 min","p":"x","x":469,"y":8},{"s":"5 min","p":"x","x":472,"y":2},
{"s":"5 min","p":"x","x":478,"y":1},{"s":"5 min","p":"x","x":490,"y":0},
{"s":"5 min","p":"m","x":490,"y":1},{"s":"5 min","p":"m","x":530,"y":1},{"s":"5 min","p":"m","x":565,"y":1},{"s":"5 min","p":"m","x":572,"y":2},{"s":"5 min","p":"m","x":576,"y":5},{"s":"5 min","p":"m","x":578,"y":12},{"s":"5 min","p":"m","x":580,"y":14},{"s":"5 min","p":"m","x":582,"y":30},{"s":"5 min","p":"m","x":584,"y":50},{"s":"5 min","p":"m","x":586,"y":100},
{"s":"5 min","p":"m","x":588,"y":145},{"s":"5 min","p":"m","x":590,"y":165},{"s":"5 min","p":"m","x":592,"y":167},{"s":"5 min","p":"m","x":594,"y":148},{"s":"5 min","p":"m","x":596,"y":117},{"s":"5 min","p":"m","x":598,"y":72},{"s":"5 min","p":"m","x":600,"y":42},{"s":"5 min","p":"m","x":602,"y":26},{"s":"5 min","p":"m","x":604,"y":21},{"s":"5 min","p":"m","x":606,"y":40},
{"s":"5 min","p":"m","x":608,"y":110},{"s":"5 min","p":"m","x":610,"y":260},{"s":"5 min","p":"m","x":612,"y":350},{"s":"5 min","p":"m","x":614,"y":374},{"s":"5 min","p":"m","x":616,"y":300},{"s":"5 min","p":"m","x":618,"y":195},{"s":"5 min","p":"m","x":620,"y":117},{"s":"5 min","p":"m","x":622,"y":68},{"s":"5 min","p":"m","x":624,"y":45},{"s":"5 min","p":"m","x":627,"y":27},
{"s":"5 min","p":"m","x":631,"y":16},{"s":"5 min","p":"m","x":636,"y":11},{"s":"5 min","p":"m","x":642,"y":9},{"s":"5 min","p":"m","x":646,"y":12},{"s":"5 min","p":"m","x":649,"y":18},{"s":"5 min","p":"m","x":652,"y":22},{"s":"5 min","p":"m","x":655,"y":17},{"s":"5 min","p":"m","x":658,"y":11},{"s":"5 min","p":"m","x":663,"y":6},{"s":"5 min","p":"m","x":670,"y":4},
{"s":"5 min","p":"m","x":677,"y":5},{"s":"5 min","p":"m","x":681,"y":10},{"s":"5 min","p":"m","x":684,"y":22},{"s":"5 min","p":"m","x":688,"y":42},{"s":"5 min","p":"m","x":692,"y":72},{"s":"5 min","p":"m","x":695,"y":100},{"s":"5 min","p":"m","x":698,"y":117},{"s":"5 min","p":"m","x":700,"y":105},{"s":"5 min","p":"m","x":702,"y":82},{"s":"5 min","p":"m","x":704,"y":58},
{"s":"5 min","p":"m","x":706,"y":37},{"s":"5 min","p":"m","x":708,"y":22},{"s":"5 min","p":"m","x":711,"y":10},{"s":"5 min","p":"m","x":715,"y":4},{"s":"5 min","p":"m","x":722,"y":2},{"s":"5 min","p":"m","x":735,"y":1},{"s":"5 min","p":"m","x":750,"y":1}
],
"trans": [
{"t":"⁷F₀→⁵L₆","x":393.8,"y":378},{"t":"⁷F₀→⁵D₂","x":465.8,"y":75},{"t":"⁵D₀→⁷F₀","x":540,"y":13.6},{"t":"⁵D₀→⁷F₁","x":565.8,"y":198},{"t":"⁵D₀→⁷F₂","x":611.8,"y":376},{"t":"⁵D₀→⁷F₃","x":657.7,"y":86},{"t":"⁵D₀→⁷F₄","x":697.1,"y":138.5}
],
"lam": [
{"t":"λ","x":264,"y":414.7},{"t":"= 614 nm","x":287.5,"y":414.7},{"t":"λ","x":655.4,"y":414.7},{"t":"= 394 nm","x":680.9,"y":414.7}
],
"sub": [
{"t":"em","x":272.8,"y":409},{"t":"exc","x":664,"y":409}
],
"head": [
{"t":"Solid Eu-doped citrate-coated carbonated apatite","x":266.2,"y":632.5}
],
"spec": [
{"t":"Excitation spectra","x":364.6,"y":465},{"t":"Emission spectra","x":611,"y":465}
],
"sep": [{"x":250,"x2":750,"y":450}]
},
"encoding": {
"x": {"field":"x","type":"quantitative","scale":{"domain":[250,750],"nice":false,"zero":false},
 "axis":{"values":[250,350,450,550,650,750],"title":"Wavelength (nm)","grid":false,"labelFontSize":23,"titleFontSize":24,"titleFontWeight":"normal","labelColor":"#000","titleColor":"#000","domainColor":"#555","domainWidth":1.5,"tickColor":"#555","tickWidth":1.5,"tickSize":6,"labelPadding":9,"titlePadding":4,"labelFlush":false,"labelFont":"Liberation Serif","titleFont":"Liberation Serif"}},
"y": {"field":"y","type":"quantitative","scale":{"domain":[0,756],"nice":false,"zero":true},
 "axis":{"values":[0,100,200,300,400],"title":"R.L.I. (a.u.)","grid":false,"labelFontSize":23,"titleFontSize":24,"titleFontWeight":"normal","labelColor":"#000","titleColor":"#000","domainColor":"#555","domainWidth":1.5,"tickColor":"#555","tickWidth":1.5,"tickSize":7,"labelPadding":13,"titleX":-66,"titleY":508,"titleBaseline":"alphabetic","titleAngle":-90,"titleAlign":"center","labelFont":"Liberation Serif","titleFont":"Liberation Serif"}}
},
"layer": [
{"data":{"name":"sep"},"mark":{"type":"rule","color":"#444","strokeWidth":1.5},"encoding":{"x2":{"field":"x2"}}},
{"data":{"name":"sp"},"mark":{"type":"line","strokeWidth":3.6,"interpolate":"monotone"},
 "encoding":{
  "color":{"field":"s","type":"nominal","scale":{"domain":["5 min","1 h","2 h","4 h","24 h","48 h","96 h"],"range":["#000000","#2a6fdb","#4a1616","#e8411a","#3a8c1c","#3cc8f2","#c9e620"]},
   "legend":{"title":null,"orient":"none","legendX":511,"legendY":10,"symbolType":"stroke","symbolSize":1156,"symbolStrokeWidth":3,"labelFontSize":17,"labelFont":"Liberation Serif","labelColor":"#000","rowPadding":7,"labelOffset":4,"padding":0,"labelExpr":"'Eu 0.01 M ' + datum.label"}},
  "strokeDash":{"field":"p","type":"nominal","scale":{"domain":["x","m"],"range":[[7,4],[1,0]]},"legend":null}
 }},
{"data":{"name":"trans"},"mark":{"type":"text","fontSize":23,"align":"center","baseline":"alphabetic","color":"#000","font":"Liberation Serif"},"encoding":{"text":{"field":"t"}}},
{"data":{"name":"lam"},"mark":{"type":"text","fontSize":22,"align":"left","baseline":"alphabetic","color":"#000","font":"Liberation Serif"},"encoding":{"text":{"field":"t"}}},
{"data":{"name":"sub"},"mark":{"type":"text","fontSize":15,"align":"left","baseline":"alphabetic","color":"#000","font":"Liberation Serif"},"encoding":{"text":{"field":"t"}}},
{"data":{"name":"head"},"mark":{"type":"text","fontSize":21,"fontWeight":"bold","align":"left","baseline":"alphabetic","color":"#000","font":"Liberation Serif"},"encoding":{"text":{"field":"t"}}},
{"data":{"name":"spec"},"mark":{"type":"text","fontSize":23,"align":"center","baseline":"alphabetic","color":"#000","font":"Liberation Serif"},"encoding":{"text":{"field":"t"}}}
]
}
